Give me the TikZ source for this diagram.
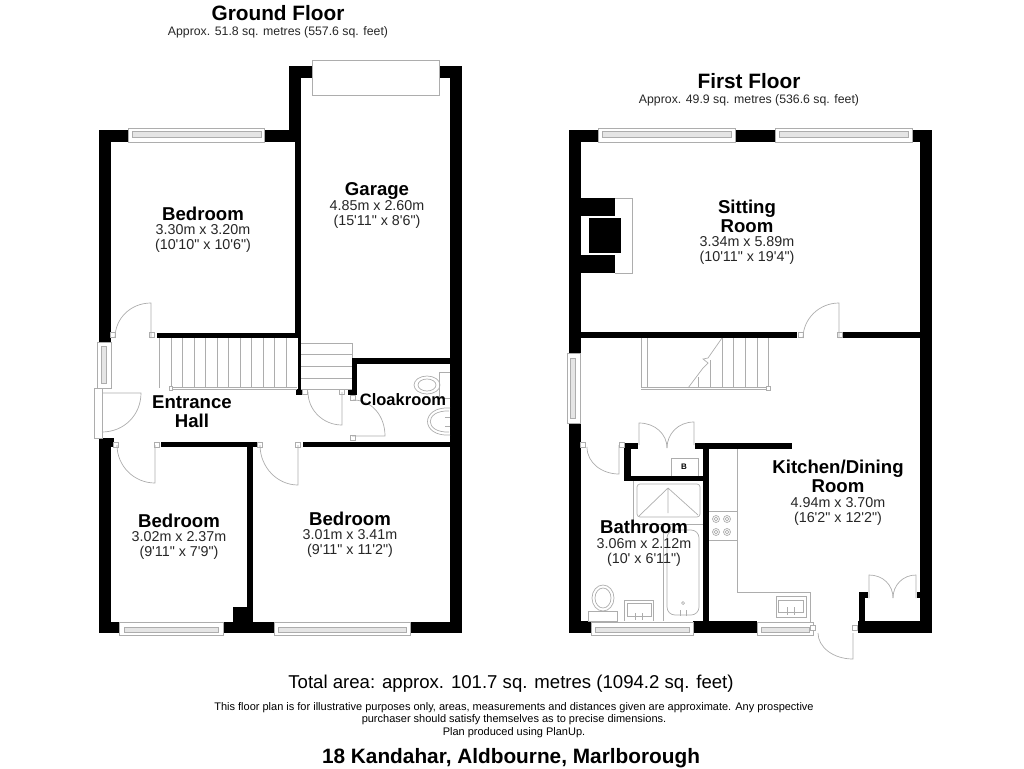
\documentclass[tikz,border=0pt]{standalone}
\usepackage{fontspec}
\setmainfont[Ligatures=TeXOff]{Liberation Sans}
\definecolor{fixgrey}{gray}{0.68}
\definecolor{bandgrey}{gray}{0.9}
\begin{document}
\begin{tikzpicture}[
  x=1pt, y=-1pt,
  wall/.style={fill=black, draw=none},
  fixture/.style={draw=fixgrey, line width=0.7pt},
  winframe/.style={draw=fixgrey, line width=0.7pt, fill=white},
  winband/.style={draw=fixgrey, line width=0.3pt, fill=bandgrey},
  jamb/.style={draw=fixgrey, line width=0.6pt, fill=white},
  roomname/.style={font=\fontsize{18.6}{19}\selectfont\bfseries, align=center, inner sep=0pt},
  roomsize/.style={font=\fontsize{14.3}{15}\selectfont, align=center, inner sep=0pt, text=black!85},
  areanote/.style={font=\fontsize{12.3}{13}\selectfont, inner sep=0pt, text=black!85},
  floortitle/.style={font=\fontsize{20.8}{22}\selectfont\bfseries, inner sep=0pt}
]
\useasboundingbox (0,0) rectangle (1024,768);

% ground floor walls
\foreach \xa/\ya/\xb/\yb in {
  99/130/111/342, 111/130/128/142, 264/130/301/142, 289/66/301/142, 289/66/312/78,
  439/66/462/78, 450/66/462/633, 295/142/301/333, 157/333/301/338, 298/333/301/390,
  296/389/302/395, 352/358/450/364, 352/358/357/395, 348/389/357/395,
  99/438/111/633, 99/438/114/447, 161/442/257/447, 247/442/253/633, 233/607/247/622,
  303/442/450/447, 99/622/119/633, 223/622/274/633, 410/622/462/633}
  \fill[wall] (\xa,\ya) rectangle (\xb,\yb);

% first floor walls
\foreach \xa/\ya/\xb/\yb in {
  569/130/581/353, 569/423/581/633, 581/130/598/142, 735/130/775/142, 912/130/932/142,
  920/130/932/633, 581/198/615/216, 581/255/615/273, 589/218/621/253,
  581/332/797/338, 843/332/920/338, 624/443/638/449, 624/443/631/481, 624/476/709/481,
  695/443/792/449, 703/443/709/622, 569/621/591/633, 693/621/757/633, 858/621/932/633,
  859/592/865/621, 859/592/868/598, 917/592/920/598}
  \fill[wall] (\xa,\ya) rectangle (\xb,\yb);

% windows along a wall, top ones and bottom ones
\foreach \xa/\xb/\xc/\xd in {128/264/132/261, 598/735/602/731, 775/912/779/908}{
  \draw[winframe] (\xa,128) rectangle (\xb,142);
  \draw[winband] (\xc,131) rectangle (\xd,137);
}
\foreach \xa/\xb/\xc/\xd in {119/223/124/218, 274/410/278/406, 591/693/595/689, 757/813/761/809}{
  \draw[winframe] (\xa,622) rectangle (\xb,635);
  \draw[winband] (\xc,627) rectangle (\xd,632);
}
\draw[winframe] (312,60) rectangle (439,95);
\foreach \ya/\yb/\yc/\yd/\xa in {342/388/346/383/97.5, 353/423/358/418/567}{
  \draw[winframe] (\xa,\ya) rectangle (\xa+13.5,\yb);
  \draw[winband] (\xa+3.5,\yc) rectangle (\xa+8.5,\yd);
}
\draw[fixture] (615,198) -- (632,198) -- (632,273) -- (615,273);

% door jambs
\foreach \x/\y in {
  113/335, 152/335, 116/445, 157/445, 260/445, 298/445, 305/392, 342/392,
  353/398, 353/438, 801/335, 840/335, 583/445, 622/445, 813/628, 855/628}
  \draw[jamb] (\x-2.5,\y-2.5) rectangle (\x+2.5,\y+2.5);

% doors, ground floor
\draw[fixture] (151,338) -- (151,303) .. controls +(-20,0) and +(0,-20) .. (115,338);
\draw[winframe] (94,388) rectangle (102,438);
\draw[fixture] (102,393) -- (141,393) .. controls +(0,22) and +(22,0) .. (102,432);
\draw[fixture] (155,445) -- (155,483) .. controls +(-21,0) and +(0,21) .. (117,445);
\draw[fixture] (298,445) -- (298,485) .. controls +(-21,0) and +(0,22) .. (260,445);
\draw[fixture] (342,392) -- (342,425) .. controls +(-19,0) and +(0,18) .. (308,392);
\draw[fixture] (352,436) -- (385,436) .. controls +(0,-20) and +(19,0) .. (353,400);

% doors, first floor
\draw[fixture] (839,338) -- (839,303) .. controls +(-20,0) and +(0,-19) .. (803,338);
\draw[fixture] (619,445) -- (619,474) .. controls +(-17,0) and +(0,16) .. (587,447);
\draw[fixture] (853,633) -- (853,659) .. controls +(-20,0) and +(0,14) .. (818,633);
\draw[fixture] (639,445) -- (639,423) .. controls +(16,0) and +(0,-14) .. (667,448);
\draw[fixture] (694,445) -- (694,422) .. controls +(-16,0) and +(0,-14) .. (667,448);
\draw[fixture] (869,598) -- (869,575) .. controls +(14,0) and +(0,-13) .. (893,598);
\draw[fixture] (916,598) -- (916,575) .. controls +(-13,0) and +(0,-13) .. (893,598);

% stairs, ground floor
\draw[fixture] (159,338) -- (159,388);
\draw[fixture] (171,387) -- (297,387) (171,389) -- (297,389);
\foreach \x in {171,182.5,194,205.5,217,228.5,240,251.5,263,274.5,286}
  \draw[fixture] (\x,338) -- (\x,387);
\draw[jamb] (169.5,386) rectangle (172.5,390);
\foreach \y in {343,354,366,378,389}
  \draw[fixture] (301,\y) -- (352,\y);
\draw[fixture] (352,343) -- (352,358);

% stairs, first floor
\draw[fixture] (641,338) -- (641,388) (647,338) -- (647,387);
\draw[fixture] (641,387) -- (767,387) (641,389) -- (767,389);
\foreach \x/\y in {698/377, 710/360, 722/338, 733/338, 745/338, 757/338, 768/338}
  \draw[fixture] (\x,\y) -- (\x,388);
\draw[fixture] (722,338) -- (708,358) -- (703,359) -- (708,363) -- (703,368) -- (688,388);
\draw[jamb] (766,386) rectangle (770,390);

% cloakroom fittings
\draw[fixture] (450,372) -- (439,372) -- (439,398) -- (450,398);
\draw[fixture] (427,385) ellipse [x radius=13, y radius=9];
\draw[fixture] (427,385) ellipse [x radius=9, y radius=6];
\draw[fixture] (450,408) .. controls (420,406) and (420,437) .. (450,435);
\draw[fixture] (449,411) .. controls (424,410) and (424,433) .. (449,432);
\draw[fixture] (445,417) -- (450,417) (445,426) -- (450,426);

% kitchen fittings
\draw[fixture] (737,449) -- (737,592) -- (810,592) -- (810,622);
\draw[fixture] (709,511) -- (737,511) (709,540) -- (737,540);
\foreach \x/\y in {716/519, 727/519, 716/532, 727/532}{
  \draw[fixture] (\x,\y) circle (3.5);
  \draw[fixture] (\x,\y) circle (1.8);
}
\draw[fixture] (776,596) rectangle (806,617);
\draw[fixture] (778,600) rectangle (803,612);
\draw[fixture] (787,607) -- (787,615) (794,607) -- (794,615);

% bathroom fittings
\draw[fixture] (633,481) -- (633,524) -- (703,524);
\draw[fixture, rounded corners=3pt] (637,484) rectangle (700,517);
\draw[fixture] (668,488) -- (639,516) (668,488) -- (668,513) (668,488) -- (698,515);
\draw[fixture] (663,524) -- (663,621);
\draw[fixture, rounded corners=8pt] (667,615) -- (667,530) -- (699,530) -- (699,615) -- cycle;
\draw[fixture] (683,603) circle (1.5);
\draw[fixture] (680,610) -- (680,616) (686,610) -- (686,616);
\draw[fixture] (588,611) rectangle (617,621);
\draw[fixture] (603,598) ellipse [x radius=11, y radius=13];
\draw[fixture] (603,598) ellipse [x radius=8, y radius=10];
\draw[fixture] (624,621) -- (624,600) -- (653,600) -- (653,621);
\draw[fixture] (627,603) rectangle (651,616);
\draw[fixture] (635,613) -- (635,620) (642,613) -- (642,620);
\draw[fixture] (671,476) -- (671,458) -- (698,458) -- (698,476);
\node[inner sep=0pt, font=\fontsize{8}{9}\selectfont\bfseries] (boiler) at (684,467) {B};

% titles
\node[floortitle] (groundtitle) at (278,13) {Ground Floor};
\node[areanote] (groundarea) at (278,32.5) {Approx. 51.8 sq. metres (557.6 sq. feet)};
\node[floortitle] (firsttitle) at (749,81) {First Floor};
\node[areanote] (firstarea) at (749,100.5) {Approx. 49.9 sq. metres (536.6 sq. feet)};

% rooms
\node[roomname] (bedroomA) at (203,214) {Bedroom};
\node[roomsize] (bedroomAsize) at (203,238.5) {3.30m x 3.20m\\(10'10" x 10'6")};
\node[roomname] (garage) at (377,190.5) {Garage};
\node[roomsize] (garagesize) at (377,214.5) {4.85m x 2.60m\\(15'11" x 8'6")};
\node[roomname] (hall) at (192,411.5) {Entrance\\Hall};
\node[roomname, font=\fontsize{16.5}{17}\selectfont\bfseries] (cloak) at (403,400) {Cloakroom};
\node[roomname] (bedroomB) at (179,521) {Bedroom};
\node[roomsize] (bedroomBsize) at (179,545.5) {3.02m x 2.37m\\(9'11" x 7'9")};
\node[roomname] (bedroomC) at (350,519) {Bedroom};
\node[roomsize] (bedroomCsize) at (350,543.5) {3.01m x 3.41m\\(9'11" x 11'2")};
\node[roomname] (sitting) at (747,216.5) {Sitting\\Room};
\node[roomsize] (sittingsize) at (747,250.5) {3.34m x 5.89m\\(10'11" x 19'4")};
\node[roomname] (kitchen) at (838,476.5) {Kitchen/Dining\\Room};
\node[roomsize] (kitchensize) at (838,511) {4.94m x 3.70m\\(16'2" x 12'2")};
\node[roomname] (bathroom) at (644,527) {Bathroom};
\node[roomsize] (bathroomsize) at (644,552) {3.06m x 2.12m\\(10' x 6'11")};

% footer
\node[inner sep=0pt, font=\fontsize{18.6}{20}\selectfont] (total) at (511,684) {Total area: approx. 101.7 sq. metres (1094.2 sq. feet)};
\node[inner sep=0pt, align=center, font=\fontsize{11}{12.5}\selectfont] (disclaimer) at (514,720) {This floor plan is for illustrative purposes only, areas, measurements and distances given are approximate. Any prospective\\purchaser should satisfy themselves as to precise dimensions.\\Plan produced using PlanUp.};
\node[floortitle] (address) at (511,758) {18 Kandahar, Aldbourne, Marlborough};
\end{tikzpicture}
\end{document}
